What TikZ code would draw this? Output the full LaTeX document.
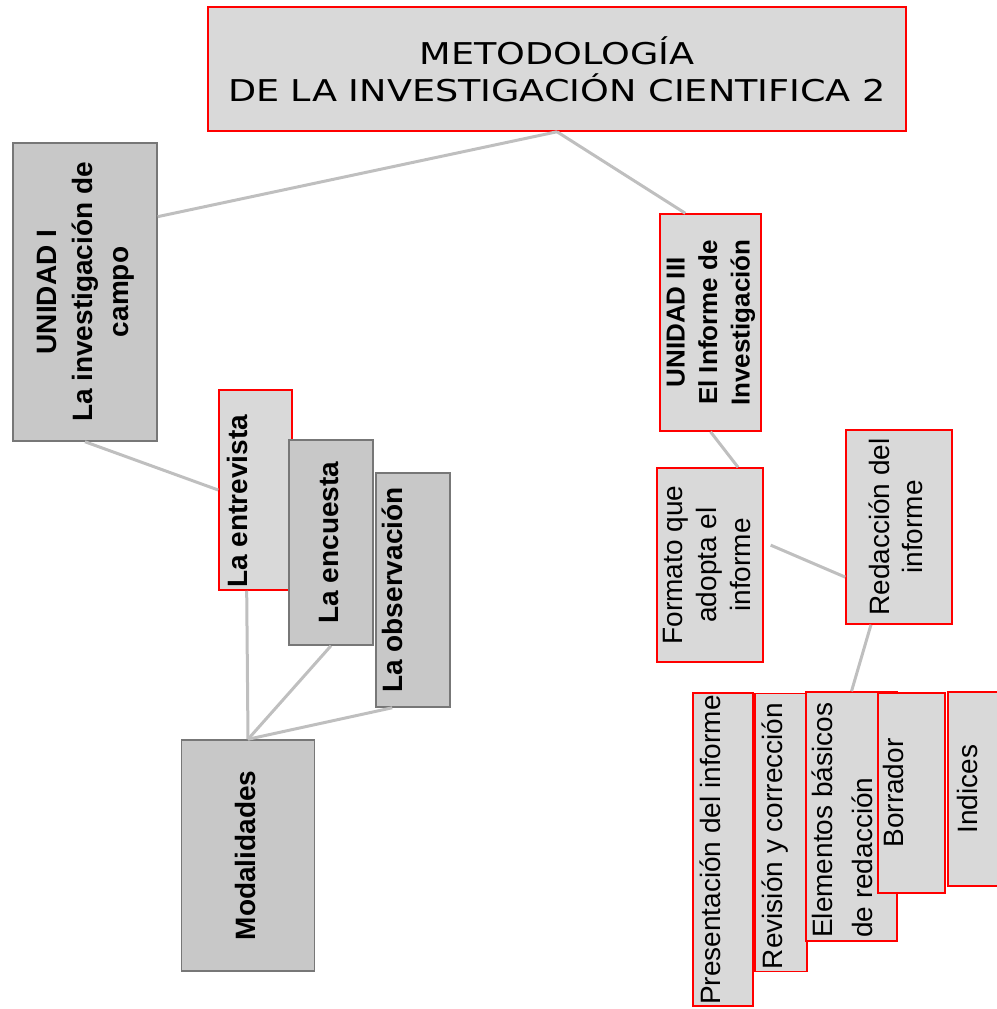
\documentclass[tikz,border=0pt]{standalone}
\usepackage{fontspec}
\usepackage{graphicx}
\setmainfont{Liberation Sans}
\newfontfamily\titelfont[FakeStretch=1.22]{DejaVu Sans}

\definecolor{hellgrau}{HTML}{D9D9D9}
\definecolor{dunkelgrau}{HTML}{C8C8C8}
\definecolor{randgrau}{HTML}{777777}
\definecolor{liniengrau}{HTML}{BFBFBF}

% senkrechter Text, von unten nach oben
\newcommand{\senkrecht}[2][c]{\rotatebox{90}{\begin{tabular}{@{}#1@{}}#2\end{tabular}}}

\tikzset{
	rotbox/.style={draw=red, line width=1.5pt, fill=hellgrau, inner sep=0pt},
	graubox/.style={draw=randgrau, line width=1.5pt, fill=dunkelgrau, inner sep=0pt},
	fettschrift/.style={font=\bfseries\fontsize{28}{36}\selectfont},
	normalschrift/.style={font=\fontsize{28}{34}\selectfont},
	vtext/.style={rotate=90, inner sep=0pt},
	verbindung/.style={draw=liniengrau, line width=3pt}
}

\begin{document}
\begin{tikzpicture}[x=1pt,y=-1pt]
	\useasboundingbox (0,0) rectangle (996,1009);

	% zeichne Titel
	\node[rotbox, minimum width=698pt, minimum height=124pt, align=center,
		font=\titelfont\fontsize{30}{37}\selectfont] (titel) at (557,69)
		{METODOLOGÍA\\DE LA INVESTIGACIÓN CIENTIFICA 2};

	% zeichne Einheiten
	\node[graubox, fettschrift, minimum width=144pt, minimum height=298pt] (einheitI) at (85,292)
		{\senkrecht{UNIDAD I\\La investigación de\\campo}};
	\node[rotbox, font=\bfseries\fontsize{26}{32.5}\selectfont, minimum width=101pt, minimum height=217pt] (einheitIII) at (710.5,322.5)
		{\senkrecht{UNIDAD III\\El Informe de\\Investigación}};

	% zeichne Techniken links
	\node[rotbox, minimum width=73pt, minimum height=200pt] (entrevista) at (255.5,490) {};
	\node[vtext, fettschrift, anchor=north west] (entrevistatxt) at (227,588) {La entrevista};
	\node[graubox, fettschrift, minimum width=84pt, minimum height=205pt] (encuesta) at (331,542.5)
		{\senkrecht{La encuesta}};
	\node[graubox, minimum width=74pt, minimum height=234pt] (observacion) at (413,590) {};
	\node[vtext, fettschrift, anchor=north] (observaciontxt) at (382,590) {La observación};
	\node[graubox, fettschrift, minimum width=133pt, minimum height=231pt] (modalidades) at (248,855.5)
		{\senkrecht{Modalidades}};

	% zeichne Informe rechts
	\node[rotbox, normalschrift, minimum width=106pt, minimum height=194pt] (formato) at (710,565)
		{\senkrecht{Formato que\\adopta el\\informe}};
	\node[rotbox, font=\fontsize{28}{33}\selectfont, minimum width=106pt, minimum height=194pt] (redaccion) at (899,527)
		{\senkrecht{Redacción del\\informe}};

	% zeichne untere Reihe
	\node[rotbox, minimum width=60pt, minimum height=313pt] (presentacion) at (723,849.5) {};
	\node[vtext, normalschrift, anchor=north] (presentaciontxt) at (700,850) {Presentación del informe};
	\node[rotbox, minimum width=52pt, minimum height=278pt] (revision) at (781,832.5) {};
	\node[vtext, normalschrift, anchor=north] (revisiontxt) at (762,836) {Revisión y corrección};
	\node[rotbox, minimum width=91pt, minimum height=249pt] (elementos) at (851.5,816.5) {};
	\node[vtext, font=\fontsize{28}{40}\selectfont, anchor=north west, align=left] (elementostxt) at (812,938)
		{Elementos básicos\\de redacción};
	\node[rotbox, minimum width=67pt, minimum height=200pt] (borrador) at (911.5,793) {};
	\node[vtext, normalschrift, anchor=north] (borradortxt) at (883,793) {Borrador};
	\node[rotbox, minimum width=62pt, minimum height=194pt] (indices) at (979,789) {};
	\node[vtext, normalschrift, anchor=north] (indicestxt) at (957,789) {Indices};

	% zeichne Verbindungen
	\draw[verbindung] (titel.south) -- (einheitI.46);
	\draw[verbindung] (titel.south) -- (einheitIII.103);
	\draw[verbindung] (einheitI.south) -- (entrevista.west);
	\draw[verbindung] (einheitIII.south) -- (formato.74);
	\draw[verbindung, shorten <=7.5pt] (formato.23) -- (redaccion.223);
	\draw[verbindung] (redaccion.254) -- (elementos.north);
	\draw[verbindung] (entrevista.265) -- (modalidades.north);
	\draw[verbindung] (encuesta.south) -- (modalidades.north);
	\draw[verbindung] (observacion.260) -- (modalidades.north);
\end{tikzpicture}
\end{document}
